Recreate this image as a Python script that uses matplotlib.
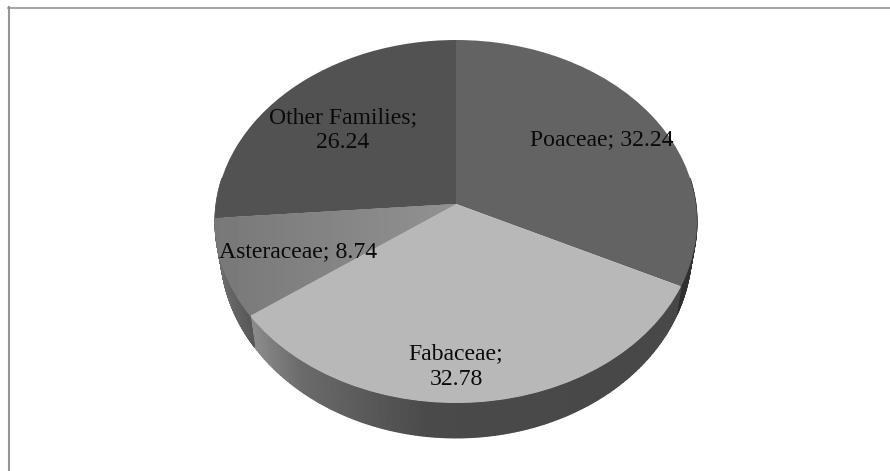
import numpy as np
import matplotlib

matplotlib.use("Agg")

import matplotlib.pyplot as plt
from matplotlib.lines import Line2D
from matplotlib.transforms import Transform

families = ["Poaceae", "Fabaceae", "Asteraceae", "Other Families"]
shares = [32.24, 32.78, 8.74, 26.24]
top_colors = ["#636363", "#b8b8b8", "#858585", "#525252"]

# wall shade against horizontal position on the rim (-1 left, 1 right), per slice
wall_u = [[0.6, 1.0], [-0.85, -0.6, -0.1, 1.0], [-1.0, -0.8], [-1.0, -0.9]]
wall_shade = [[0.13, 0.2], [0.58, 0.42, 0.29, 0.28], [0.45, 0.34], [0.4, 0.4]]

# pixel geometry, the pie hub sits at (HUB_X, HUB_Y)
W, H = 890, 471
HUB_X, HUB_Y = 456, 204
RX, RY = 239.9, 179.8
PERSP = 0.0964  # far rim is smaller than the near rim
# lower rim relative to the top rim
LOW_SX, LOW_SY, LOW_DROP = 0.978, 1.04, 27


def project(u, v):
    """Unit circle coords to pixel offsets from the hub, with perspective."""
    den = 1 + PERSP * v
    return RX * u / den, RY * v / den


class Tilt(Transform):
    input_dims = 2
    output_dims = 2

    def transform_non_affine(self, xy):
        x, y = project(xy[:, 0], xy[:, 1])
        return np.column_stack([x, y])


fig = plt.figure(figsize=(W / 100, H / 100), dpi=100, facecolor="white")
ax = fig.add_axes([0, 0, 1, 1])

wedges, _ = ax.pie(shares, startangle=90, counterclock=False, colors=top_colors,
                   wedgeprops={"linewidth": 0, "zorder": 3})
tilt = Tilt() + ax.transData
for w in wedges:
    w.set_transform(tilt)

# Asteraceae top is lighter toward the hub side
grad = ax.imshow(np.linspace(0.47, 0.57, 64)[None, :], cmap="gray", vmin=0, vmax=1,
                 extent=(-245, 0, -130, 10), aspect="auto", zorder=3.5, interpolation="bilinear")
grad.set_clip_path(wedges[2])

# Side wall as gouraud meshes, one per slice, hidden by the top where it faces away
start = 90.0
for share, us, shades in zip(shares, wall_u, wall_shade):
    stop = start - share * 3.6
    th = np.radians(np.linspace(start, stop, 200))
    th = th[np.sin(th) < 0.15]
    if len(th) > 1:
        u, v = np.cos(th), np.sin(th)
        x, y = project(u, v)
        X = np.vstack([x, x * LOW_SX])
        Y = np.vstack([y, y * LOW_SY - LOW_DROP])
        c = np.interp(u, us, shades)
        ax.pcolormesh(X, Y, np.vstack([c, c]), shading="gouraud", cmap="gray",
                      vmin=0, vmax=1, zorder=2)
    start = stop

ax.set_aspect("auto")
ax.set_xlim(-HUB_X, W - HUB_X)
ax.set_ylim(HUB_Y - H, HUB_Y)
ax.axis("off")

labels = [f"{families[0]}; {shares[0]}",
          f"{families[1]};\n{shares[1]}",
          f"{families[2]}; {shares[2]}",
          f"{families[3]};\n{shares[3]}"]
# last line baselines, in image pixels
label_px = [(602, 145), (456, 385), (298, 257), (343, 148.5)]
for lab, (px, py) in zip(labels, label_px):
    ax.text(px - HUB_X, HUB_Y - py, lab, ha="center", va="baseline",
            family="Liberation Serif", fontsize=17.1, color="#0a0a0a",
            linespacing=1.28, zorder=5)

# chart frame, only top and left survive in the crop
fig.add_artist(Line2D([9 / W, 9 / W], [0, 1 - 7 / H], color="#969696", lw=1.5))
fig.add_artist(Line2D([8 / W, 1], [1 - 7.7 / H, 1 - 7.7 / H], color="#8c8c8c", lw=1.1))

fig.savefig("out.png", dpi=100, facecolor="white")
